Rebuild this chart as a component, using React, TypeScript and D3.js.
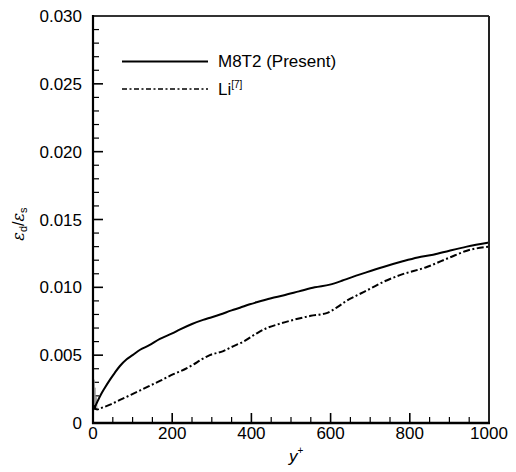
import React from "react";
import * as d3 from "d3";

const m8t2X = [2, 10, 20, 30, 43, 55, 68, 85, 100, 119, 140, 169, 200, 220, 250, 278, 300, 321, 350, 371, 396, 413, 450, 480, 520, 560, 598, 630, 649, 690, 733, 780, 820, 859, 900, 944, 1000];
const m8t2Y = [0.0010, 0.0015, 0.0021, 0.0026, 0.0032, 0.0037, 0.0042, 0.0047, 0.0050, 0.0054, 0.0057, 0.0062, 0.0066, 0.0069, 0.0073, 0.0076, 0.0078, 0.0080, 0.0083, 0.0085, 0.00875, 0.0089, 0.0092, 0.0094, 0.0097, 0.0100, 0.0102, 0.0105, 0.0107, 0.0111, 0.0115, 0.0119, 0.0122, 0.0124, 0.0127, 0.0130, 0.0133];

const liX = [2, 10, 20, 30, 43, 68, 90, 119, 140, 169, 203, 220, 253, 275, 295, 329, 350, 380, 413, 439, 470, 506, 550, 590, 615, 640, 666, 700, 733, 775, 843, 901, 944, 1000];
const liY = [0.0013, 0.0010, 0.0011, 0.0012, 0.00135, 0.0017, 0.0020, 0.0024, 0.0027, 0.0031, 0.0036, 0.0038, 0.0043, 0.0047, 0.0050, 0.0053, 0.0056, 0.0060, 0.0066, 0.0070, 0.0073, 0.0076, 0.0079, 0.0081, 0.0085, 0.0090, 0.0094, 0.0099, 0.0104, 0.0109, 0.0115, 0.0122, 0.0127, 0.0130];

const spikeX = [3, 4, 5, 6, 8, 10];
const spikeY = [0.0032, 0.0010, 0.0026, 0.0012, 0.0019, 0.0011];

const xTicks = [0, 200, 400, 600, 800, 1000];
const xTickLabels = ["0", "200", "400", "600", "800", "1000"];
const yTicks = [0, 0.005, 0.01, 0.015, 0.02, 0.025, 0.03];
const yTickLabels = ["0", "0.005", "0.010", "0.015", "0.020", "0.025", "0.030"];

const legendLabels = ["M8T2 (Present)", "Li"];

export default function App() {
  const W = 516, H = 472;
  const left = 93, right = 489, top = 16, bottom = 423;
  const x = d3.scaleLinear().domain([0, 1000]).range([left, right]);
  const y = d3.scaleLinear().domain([0, 0.03]).range([bottom, top]);
  const line = d3.line<[number, number]>().x(d => x(d[0])).y(d => y(d[1])).curve(d3.curveMonotoneX);
  const solid = m8t2X.map((v, i) => [v, m8t2Y[i]] as [number, number]);
  const li = liX.map((v, i) => [v, liY[i]] as [number, number]);
  const spike = spikeX.map((v, i) => [v, spikeY[i]] as [number, number]);
  const spikeLine = d3.line<[number, number]>().x(d => x(d[0])).y(d => y(d[1]));

  const xMinor = d3.range(0, 1001, 50);
  const yMinor = d3.range(0, 31, 1).map(v => v / 1000);
  const font = "Liberation Sans, Arial, Helvetica, sans-serif";
  const dash = "7,2.5,2,2.5";

  return (
    <svg width={W} height={H} style={{ position: "absolute", left: 0, top: 0, background: "#fff" }} fontFamily={font}>
      <rect x={0} y={0} width={W} height={H} fill="#fff" />
      {xMinor.map(v => (
        <line key={"xm" + v} x1={x(v)} x2={x(v)} y1={bottom} y2={bottom - (v % 200 === 0 ? 10 : 6)} stroke="#000" strokeWidth={v % 200 === 0 ? 1.6 : 1.2} />
      ))}
      {yMinor.map((v, i) => (
        <line key={"ym" + i} x1={left} x2={left + (i % 5 === 0 ? 10 : 6)} y1={y(v)} y2={y(v)} stroke="#000" strokeWidth={i % 5 === 0 ? 1.6 : 1.2} />
      ))}
      <path d={spikeLine(spike) || ""} fill="none" stroke="#999" strokeWidth={1} />
      <path d={line(li) || ""} fill="none" stroke="#000" strokeWidth={2} strokeDasharray={dash} />
      <path d={line(solid) || ""} fill="none" stroke="#000" strokeWidth={2} />
      <line x1={left} x2={right} y1={top} y2={top} stroke="#333" strokeWidth={2} />
      <line x1={right} x2={right} y1={top} y2={bottom} stroke="#222" strokeWidth={2} />
      <line x1={left} x2={left} y1={top - 1} y2={bottom + 1} stroke="#000" strokeWidth={2.2} />
      <line x1={left - 1} x2={right + 1} y1={bottom} y2={bottom} stroke="#000" strokeWidth={2.6} />
      {xTicks.map((v, i) => (
        <text key={"xt" + v} x={x(v)} y={439} textAnchor="middle" fontSize={17} fill="#000">{xTickLabels[i]}</text>
      ))}
      {yTicks.map((v, i) => (
        <text key={"yt" + i} x={82} y={y(v)} dy="0.36em" textAnchor="end" fontSize={17} fill="#000">{yTickLabels[i]}</text>
      ))}
      <text x={289} y={462} fontSize={17} fontStyle="italic" fill="#000">
        y<tspan fontSize={10} dy={-8} fontStyle="normal">+</tspan>
      </text>
      <text transform="translate(24,224) rotate(-90)" textAnchor="middle" fontSize={16} fill="#000">
        <tspan fontStyle="italic" fontFamily="DejaVu Serif, serif">ε</tspan>
        <tspan fontSize={11} dy={3}>d</tspan>
        <tspan dy={-3}>/</tspan>
        <tspan fontStyle="italic" fontFamily="DejaVu Serif, serif">ε</tspan>
        <tspan fontSize={11} dy={3}>s</tspan>
      </text>
      <line x1={122} x2={208} y1={61.5} y2={61.5} stroke="#000" strokeWidth={2} />
      <text x={218} y={67} fontSize={17} fill="#000">{legendLabels[0]}</text>
      <line x1={122} x2={208} y1={89} y2={89} stroke="#000" strokeWidth={1.6} strokeDasharray="5,2.5,2,2.5" />
      <text x={218} y={95} fontSize={17} fill="#000">
        {legendLabels[1]}<tspan fontSize={10} dy={-7}>[7]</tspan>
      </text>
    </svg>
  );
}
